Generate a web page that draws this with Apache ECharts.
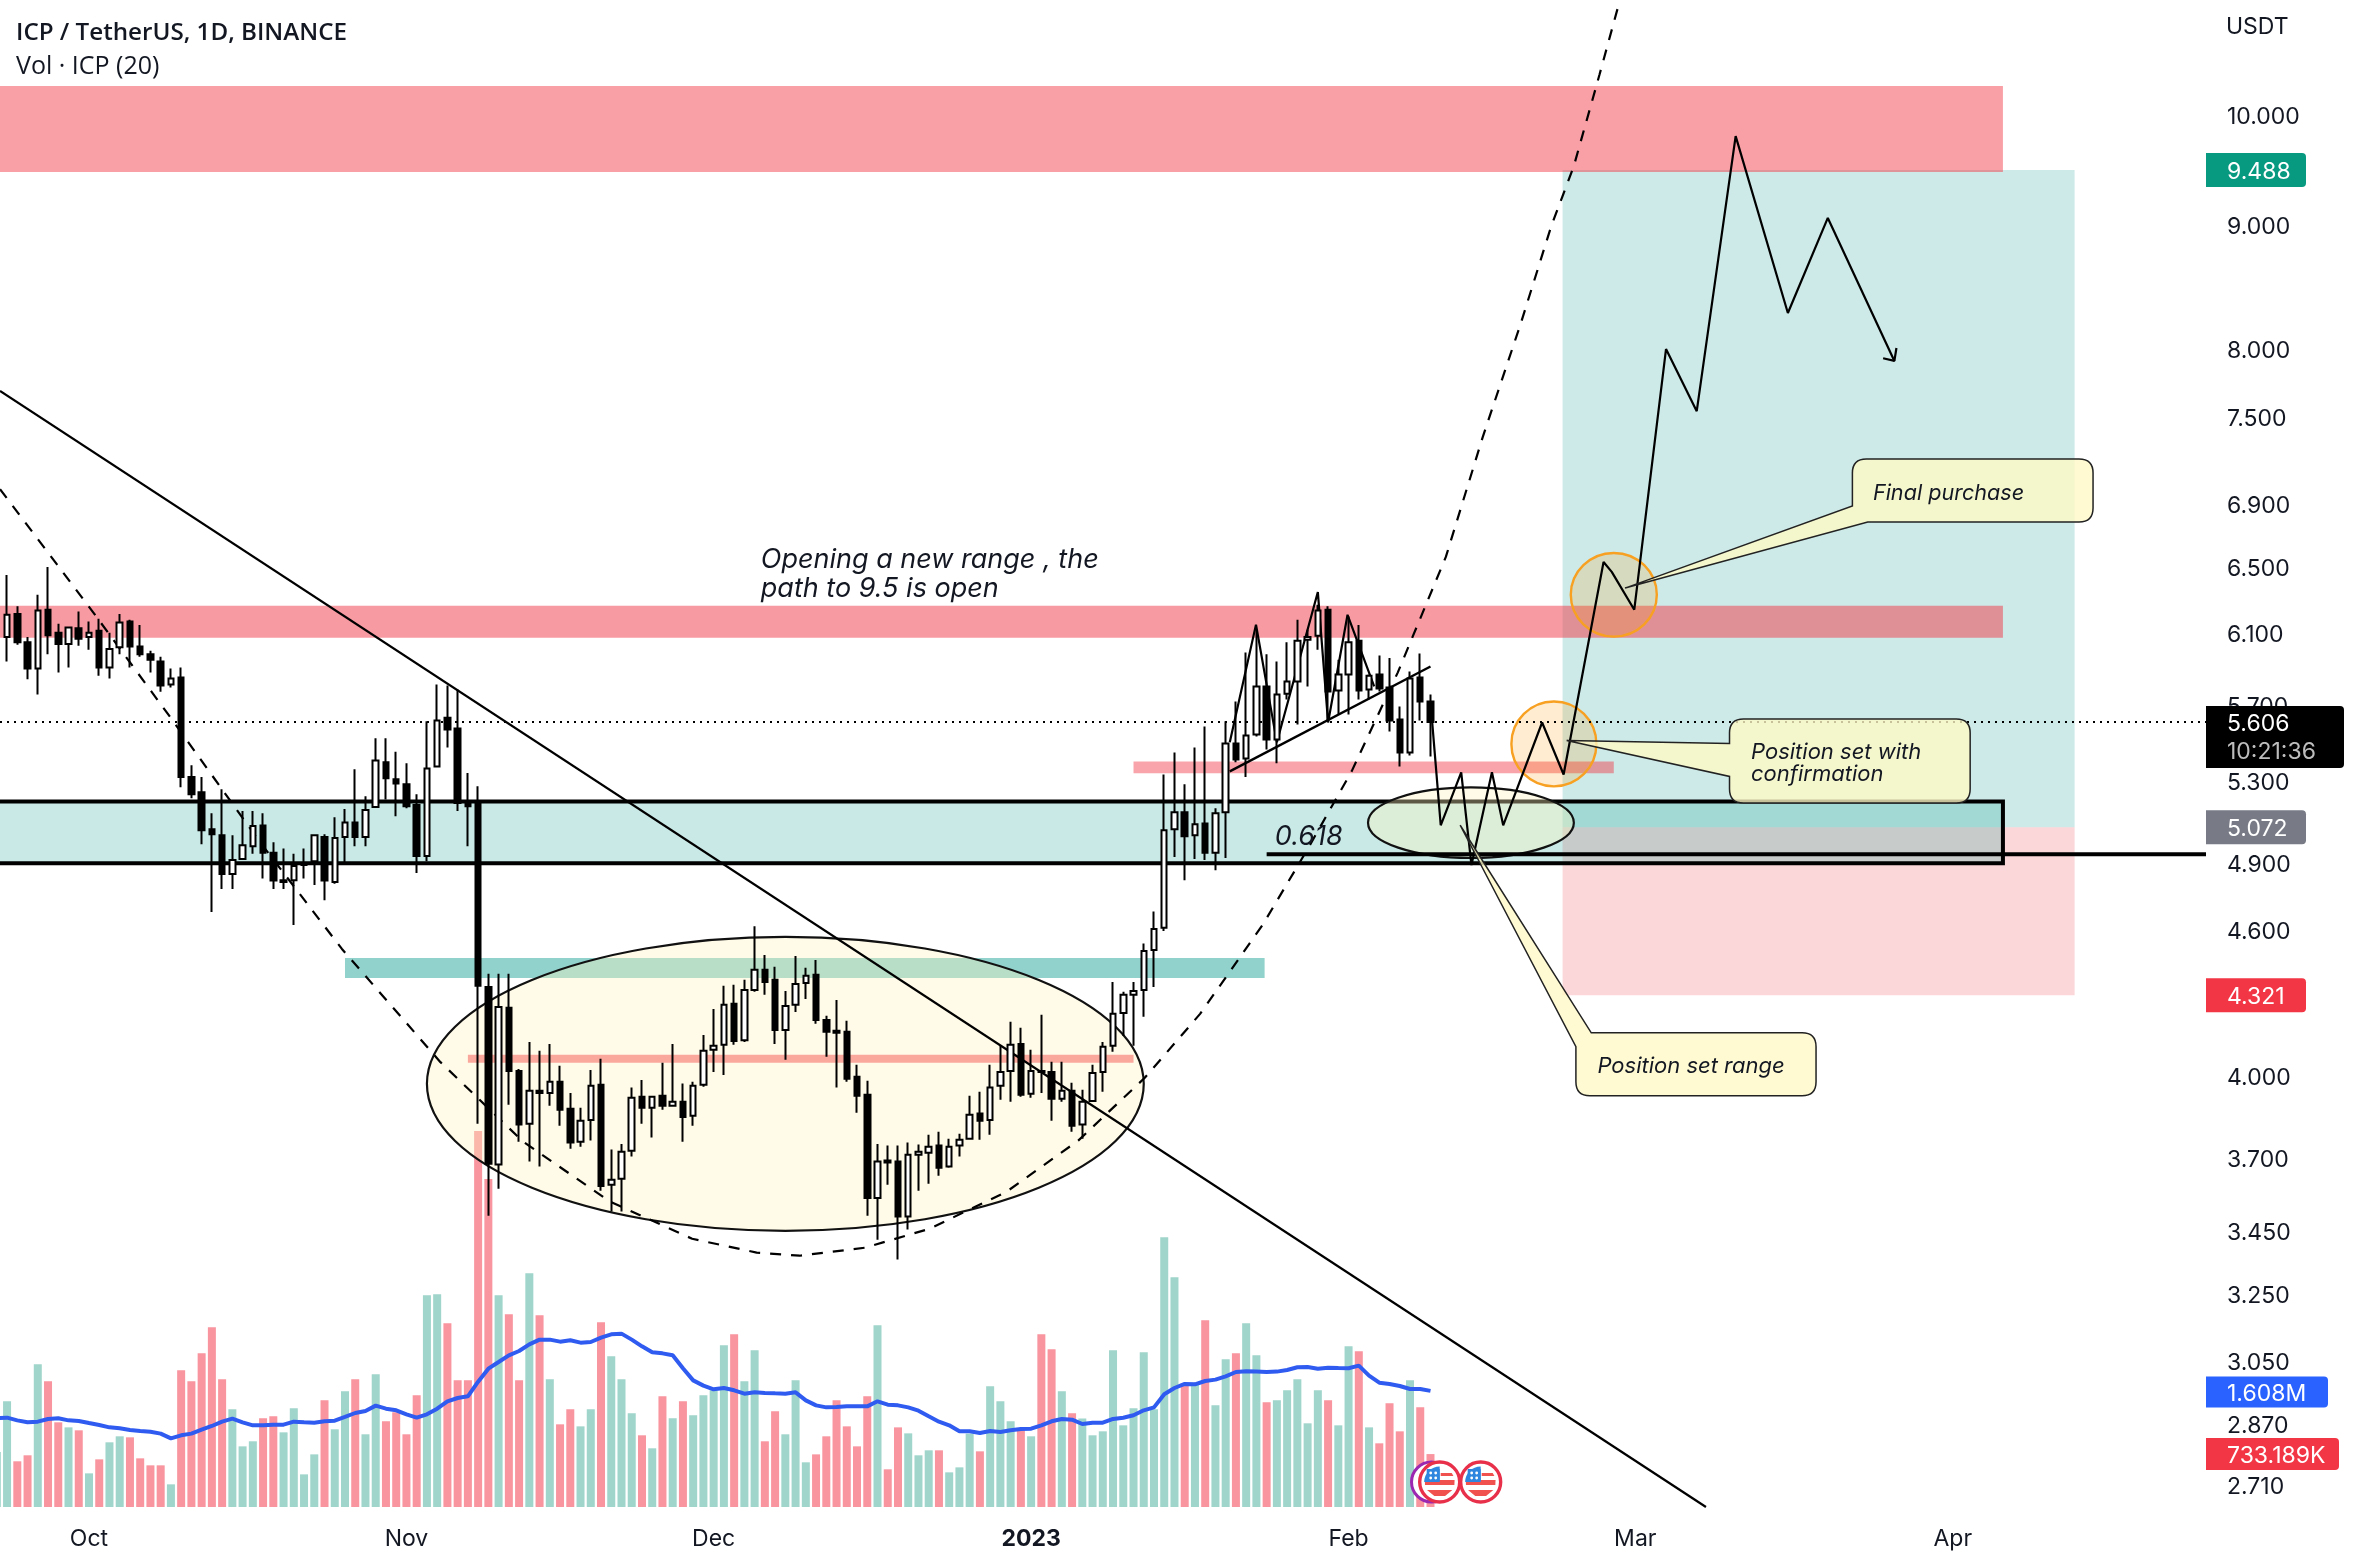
<!DOCTYPE html>
<html><head><meta charset="utf-8"><title>ICP / TetherUS</title>
<style>html,body{margin:0;padding:0;background:#fff}#c{width:2362px;height:1564px}</style>
<script src="https://cdn.jsdelivr.net/npm/echarts@6/dist/echarts.min.js"></script>
</head><body><div id="c"></div>
<script>
const firstDay = '2022-09-22';
// one row per daily candle: open, close, low, high
const ohlc = [
[5.905,6.08,5.9,6.2],[6.08,6.21,5.94,6.45],[6.215,6.05,6.035,6.26],[6.05,5.90,5.84,6.08],[5.90,6.235,5.755,6.33],
[6.24,6.09,5.98,6.50],[6.105,6.04,5.877,6.157],[6.04,6.135,5.905,6.14],[6.13,6.07,6.03,6.23],[6.08,6.105,6.007,6.17],
[6.116,5.905,5.86,6.187],[5.905,6.01,5.844,6.105],[6.02,6.164,5.98,6.215],[6.17,6.025,5.905,6.18],[6.025,5.98,5.967,6.15],
[5.98,5.95,5.877,6.0],[5.94,5.805,5.77,5.967],[5.81,5.844,5.794,5.90],[5.85,5.32,5.268,5.905],[5.32,5.233,5.213,5.38],
[5.243,5.057,4.99,5.32],[5.062,5.038,4.678,5.14],[5.033,4.85,4.781,5.258],[4.85,4.915,4.781,5.033],[4.92,4.985,4.915,5.15],
[4.98,5.077,4.945,5.15],[5.08,4.95,4.83,5.14],[4.95,4.82,4.781,5.0],[4.813,4.822,4.781,4.97],[4.822,4.887,4.62,4.945],
[4.892,4.90,4.83,4.97],[4.91,5.033,4.80,5.038],[5.024,4.82,4.73,5.038],[4.813,5.02,4.805,5.12],[5.024,5.095,4.905,5.16],
[5.095,5.024,4.98,5.36],[5.024,5.155,4.98,5.223],[5.17,5.405,5.165,5.52],[5.395,5.314,5.208,5.52],[5.309,5.288,5.125,5.45],
[5.283,5.174,5.164,5.39],[5.18,4.934,4.855,5.233],[4.934,5.364,4.91,5.61],[5.374,5.615,5.37,5.81],[5.63,5.567,5.472,5.805],
[5.572,5.19,5.15,5.783],[5.19,5.174,4.98,5.34],[5.198,4.36,3.823,5.273],[4.355,3.68,3.502,4.41],[3.677,4.273,3.593,4.41],
[4.27,4.02,3.893,4.41],[4.02,3.82,3.758,4.028],[3.823,3.945,3.688,4.133],[3.945,3.937,3.67,4.098],[3.937,3.979,3.889,4.125],
[3.979,3.874,3.816,4.04],[3.878,3.755,3.733,3.937],[3.758,3.834,3.74,3.882],[3.837,3.964,3.762,4.024],[3.968,3.603,3.586,4.067],
[3.607,3.624,3.516,3.73],[3.628,3.722,3.516,3.75],[3.726,3.919,3.705,3.957],[3.923,3.882,3.823,3.986],[3.882,3.923,3.773,3.926],
[3.926,3.889,3.874,4.052],[3.889,3.904,3.889,4.125],[3.904,3.848,3.758,3.972],[3.852,3.964,3.816,3.979],[3.968,4.098,3.96,4.16],
[4.102,4.118,4.016,4.265],[4.122,4.282,4.005,4.36],[4.286,4.137,4.122,4.364],[4.14,4.343,4.133,4.385],[4.343,4.427,4.335,4.615],
[4.427,4.376,4.323,4.49],[4.385,4.18,4.125,4.44],[4.18,4.277,4.063,4.339],[4.282,4.368,4.253,4.486],[4.372,4.402,4.306,4.436],
[4.406,4.22,4.205,4.469],[4.22,4.173,4.075,4.237],[4.177,4.169,3.957,4.302],[4.173,3.99,3.979,4.217],[3.998,3.926,3.863,4.044],
[3.93,3.562,3.502,3.983],[3.562,3.688,3.423,3.75],[3.691,3.684,3.607,3.744],[3.688,3.499,3.359,3.744],[3.499,3.712,3.456,3.755],
[3.712,3.722,3.586,3.748],[3.719,3.74,3.61,3.783],[3.744,3.666,3.638,3.794],[3.67,3.74,3.666,3.769],[3.744,3.765,3.705,3.787],
[3.769,3.856,3.765,3.926],[3.86,3.834,3.765,3.941],[3.837,3.957,3.783,4.044],[3.964,4.016,3.911,4.118],[4.02,4.122,3.904,4.213],
[4.125,3.93,3.923,4.189],[3.934,4.02,3.919,4.102],[4.02,4.016,3.937,4.241],[4.016,3.915,3.834,4.056],[3.915,3.945,3.904,4.056],
[3.945,3.816,3.794,3.975],[3.82,3.904,3.769,3.949],[3.907,4.012,3.904,4.044],[4.016,4.114,3.941,4.133],[4.118,4.245,4.094,4.376],
[4.249,4.323,4.156,4.335],[4.323,4.339,4.118,4.376],[4.343,4.507,4.233,4.54],[4.511,4.603,4.355,4.68],[4.608,5.057,4.594,5.333],
[5.062,5.145,4.93,5.446],[5.145,5.028,4.822,5.283],[5.033,5.086,4.92,5.472],[5.09,4.95,4.915,5.583],[4.95,5.14,4.868,5.164],
[5.145,5.493,4.925,5.61],[5.493,5.41,5.395,5.717],[5.415,5.535,5.32,5.99],[5.54,5.80,5.53,6.122],[5.80,5.514,5.462,5.98],
[5.514,5.755,5.39,5.94],[5.76,5.827,5.728,6.05],[5.827,6.058,5.593,6.18],[6.064,6.08,5.80,6.122],[6.087,6.235,6.007,6.27],
[6.24,5.772,5.61,6.26],[5.778,5.866,5.647,5.95],[5.866,6.05,5.647,6.2],[6.058,5.778,5.728,6.15],[5.783,5.86,5.728,5.866],
[5.866,5.788,5.772,5.973],[5.794,5.615,5.556,5.96],[5.62,5.446,5.374,5.69],[5.446,5.844,5.43,5.883],[5.85,5.717,5.615,5.985],
[5.717,5.606,5.425,5.755]
];
// volume in thousands of ICP, per candle
const volume = [
762,1464,633,716,1976,1741,1173,1103,1062,466,660,896,979,965,674,577,577,314,1893,1741,
2128,2489,1768,1353,840,910,1228,1256,1034,1367,452,729,1477,1076,1602,1768,1007,1838,1187,1311,
1007,1547,2932,2946,2544,1754,1754,5208,4543,2932,2669,1754,3236,2655,1768,1145,1353,1117,1353,2558,
2087,1768,1297,993,813,1533,1228,1464,1270,1547,1616,2239,2392,1741,2170,910,1325,1007,1754,619,
729,979,1477,1117,840,1533,2516,522,1103,1020,716,785,785,480,549,1016,771,1671,1464,1187,
1062,979,2392,2184,1602,1297,1224,993,1048,2170,1131,1367,2142,1353,3735,3181,1708,1708,2586,1408,
2045,2128,2544,2101,1450,1477,1616,1768,1159,1616,1477,1131,2225,2156,1103,882,1436,1048,1754,1380,733
];
// 20-period volume average, per candle
const volumeMA = [
1233,1237,1200,1173,1182,1219,1228,1200,1191,1163,1136,1103,1090,1067,1053,1043,1016,951,993,1016,
1071,1122,1182,1224,1173,1131,1131,1140,1140,1182,1173,1168,1187,1196,1247,1302,1330,1404,1362,1339,
1284,1237,1284,1362,1464,1510,1533,1736,1916,2008,2101,2161,2253,2318,2318,2290,2309,2276,2285,2345,
2392,2401,2318,2225,2142,2128,2101,1921,1754,1681,1630,1648,1616,1570,1588,1579,1574,1570,1588,1477,
1408,1380,1385,1394,1394,1394,1464,1417,1408,1380,1334,1256,1182,1131,1048,1048,1025,1053,1039,1062,
1080,1085,1131,1187,1219,1210,1150,1168,1168,1219,1237,1270,1339,1380,1561,1648,1704,1699,1745,1764,
1810,1870,1879,1875,1870,1875,1898,1935,1939,1916,1930,1925,1921,1958,1819,1722,1704,1676,1634,1634,1608
];
const priceTicks = ['10.000','9.000','8.000','7.500','6.900','6.500','6.100','5.700','5.300','4.900','4.600','4.000','3.700','3.450','3.250','3.050','2.870','2.710'];
const monthTicks = ['2022-10-01','2022-11-01','2022-12-01','2023-01-01','2023-02-01','2023-03-01','2023-04-01'];
const monthLabels = ['Oct','Nov','Dec','2023','Feb','Mar','Apr'];

// axis window, in days after firstDay, and in price
const dayWindow = [0.31, 215.73];
const priceWindow = [2.653, 11.158];
const volumeMax = 20872;

// trade levels
const lastPrice = 5.606, targetPrice = 9.488, entryPrice = 5.072, stopPrice = 4.321;
const volMALast = 1608, volLast = 733.189;
// zones: from day, to day, upper price, lower price
const supplyTop = [-1, 195.9, 10.28, 9.471];
const supplyMid = [-1, 195.9, 6.263, 6.076];
const rangeBox = [-1, 195.9, 5.198, 4.90];
const tealStrip = [34.0, 123.8, 4.477, 4.393];
const pinkStripLow = [46.0, 111.0, 4.083, 4.052];
const pinkStripHigh = [111.0, 157.9, 5.40, 5.339];
const profitArea = [152.9, 202.9, targetPrice, entryPrice];
const lossArea = [152.9, 202.9, entryPrice, stopPrice];
// ellipses: left day, right day, upper price, lower price
const bigEllipse = [42.0, 112.0, 4.568, 3.452];
const rangeEllipse = [133.9, 154.0, 5.268, 4.925];
const upperCircle = [153.7, 162.1, 6.587, 6.082];
const lowerCircle = [147.9, 156.2, 5.717, 5.273];
// drawn lines: [day, price]
const downTrend = [[0.31,7.687],[166.9,2.653]];
const arcCurve = [[0.31,7.0],[9.39,6.226],[17.1,5.62],[25.7,5.0],[33.7,4.516],[43.3,4.055],[51.4,3.758],[59.9,3.549],[67.9,3.426],[74.2,3.381],[78.4,3.371],[84.8,3.397],[91.1,3.459],[98.6,3.583],[105.6,3.762],[112.1,3.994],[117.5,4.245],[123.6,4.62],[128.0,4.967],[132.3,5.349],[136.8,5.877],[141.5,6.562],[145.1,7.356],[148.8,8.194],[151.8,8.996],[154.0,9.525],[156.5,10.39],[158.5,11.158]];
const riseLine = [[120.4,5.349],[140.0,5.911]];
const fibLine = [[124.0,4.943],[215.73,4.943]];
const pastZigzag = [[120.4,5.499],[122.96,6.152],[125.0,5.499],[129.0,6.346],[130.0,5.604],[131.9,6.21],[134.5,5.80]];
const pathZigzag = [[140.0,5.717],[141.0,5.081],[143.0,5.344],[144.0,4.892],[146.0,5.344],[147.1,5.081],[150.9,5.604],[153.0,5.333],[156.9,6.53],[157.7,6.469],[159.9,6.24],[163.0,8.0],[166.0,7.54],[169.8,9.80],[174.9,8.28],[178.8,9.065],[185.3,7.91]];
const arrowTip = [[184.2,7.93],[185.3,7.91],[185.5,8.008]];
// callouts: outline vertices [day, price, corner radius]
const calloutFinal = [[181.2,7.204,14],[204.7,7.204,14],[204.7,6.784,14],[182.7,6.784,0],[159.0,6.370,0],[181.2,6.889,0]];
const calloutConfirm = [[169.2,5.623,14],[192.7,5.623,14],[192.7,5.190,14],[169.2,5.190,14],[169.2,5.323,0],[153.3,5.509,0],[169.2,5.493,0]];
const calloutRange = [[155.7,4.169,0],[177.65,4.169,14],[177.65,3.926,14],[154.2,3.926,14],[154.2,4.114,0],[142.9,5.081,0]];
// free text: day, price, text, font size
const notes = [
 [183.2,6.987,'Final purchase',21.6],
 [171.3,5.402,'Position set with\nconfirmation',22],
 [156.3,4.044,'Position set range',22],
 [74.6,6.465,'Opening a new range , the\npath to 9.5 is open',27],
 [124.8,5.033,'0.618',27]
];
const economicEvents = [140.9, 144.9];
const dividendEvent = 140.1;
const eventVolumeLevel = 346;
const lastLabelTime = '10:21:36';

const DAY = 864e5;
const t0 = Date.parse(firstDay + 'T00:00:00Z');
const monthDays = monthTicks.map(d => (Date.parse(d + 'T00:00:00Z') - t0) / DAY);
const fontFamily = 'Inter';
const INK = '#131722';

const candles = ohlc.map((r, i) => [i, r[0], r[1], r[2], r[3]]);
const line = (name, data, width, extra) => ({
  name, type: 'line', data, xAxisIndex: 0, yAxisIndex: 0, showSymbol: false, symbol: 'none',
  silent: true, animation: false, z: 4,
  lineStyle: Object.assign({ color: '#000', width }, extra || {})
});
const custom = (name, z, items, render, yAxisIndex, clip) => ({
  name, type: 'custom', xAxisIndex: 0, yAxisIndex: yAxisIndex || 0, z, silent: true, animation: false, clip: !!clip,
  data: items.map((_, i) => [i]),
  encode: { x: -1, y: -1 },
  renderItem: (params, api) => render(items[params.dataIndex], api)
});
const boxOf = (b, api) => {
  const a = api.coord([b[0], b[2]]), c = api.coord([b[1], b[3]]);
  return { x: a[0], y: a[1], width: c[0] - a[0], height: c[1] - a[1] };
};
const zone = (b, fill, stroke, w) => ({ b, fill, stroke, w });
const zoneItem = (z, api) => ({
  type: 'rect', shape: boxOf(z.b, api),
  style: { fill: z.fill, stroke: z.stroke || null, lineWidth: z.w || 0 }
});
const zones = [
  zone(profitArea, 'rgba(38,166,154,0.23)'),
  zone(lossArea, 'rgba(242,54,69,0.2)'),
  zone(supplyTop, 'rgba(242,54,69,0.48)'),
  zone(supplyMid, 'rgba(242,54,69,0.5)'),
  zone(tealStrip, 'rgba(38,166,154,0.5)'),
  zone(pinkStripHigh, 'rgba(242,54,69,0.45)'),
  zone(rangeBox, 'rgba(38,166,154,0.25)', '#000', 4)
];
const ellipses = [
  [bigEllipse, 'rgba(255,245,190,0.36)', '#111', 2.2],
  [rangeEllipse, 'rgba(255,245,190,0.36)', '#111', 2.2],
  [upperCircle, 'rgba(255,152,0,0.18)', '#f7a021', 2.4],
  [lowerCircle, 'rgba(255,152,0,0.18)', '#f7a021', 2.4]
];
function calloutPath(vs, api) {
  const P = vs.map(v => { const c = api.coord([v[0], v[1]]); return [c[0], c[1], v[2]]; });
  let d = '';
  const n = P.length;
  P.forEach((p, i) => {
    const a = P[(i + n - 1) % n], b = P[(i + 1) % n], r = p[2];
    if (!r) { d += (i ? 'L' : 'M') + p[0] + ' ' + p[1]; return; }
    const la = Math.hypot(a[0]-p[0], a[1]-p[1]), lb = Math.hypot(b[0]-p[0], b[1]-p[1]);
    const s = [p[0] + (a[0]-p[0])*r/la, p[1] + (a[1]-p[1])*r/la];
    const e = [p[0] + (b[0]-p[0])*r/lb, p[1] + (b[1]-p[1])*r/lb];
    d += (i ? 'L' : 'M') + s[0] + ' ' + s[1] + 'Q' + p[0] + ' ' + p[1] + ' ' + e[0] + ' ' + e[1];
  });
  return d + 'Z';
}
const labelX = dayWindow[1];
const tags = [
  { text: targetPrice.toFixed(3), v: targetPrice, color: '#089981', w: 100 },
  { text: entryPrice.toFixed(3), v: entryPrice, color: '#787b86', w: 100 },
  { text: stopPrice.toFixed(3), v: stopPrice, color: '#f23645', w: 100 }
];
const volTags = [
  { text: (volMALast/1000).toFixed(3) + 'M', v: volMALast, color: '#2962ff', w: 122, h: 31, dy: 1 },
  { text: volLast.toFixed(3) + 'K', v: volLast, color: '#f23645', w: 133, h: 32, dy: 0 }
];
const txt = (x, y, text, fill, size, extra) => ({ type: 'text', silent: true, style: Object.assign({ x, y, text, fill, font: size + 'px ' + fontFamily, align: 'left', verticalAlign: 'middle' }, extra || {}) });
const tagItem = (tag, api) => {
  const c = api.coord([labelX, tag.v]), y = c[1] + (tag.dy || 0), h = tag.h || 34, x0 = c[0];
  return { type: 'group', children: [
    { type: 'rect', shape: { x: x0, y: y - h / 2, width: tag.w, height: h, r: [0,4,4,0] }, style: { fill: tag.color } },
    txt(x0 + 21, y + 2, tag.text, '#fff', 23)
  ]};
};
function ring(day, api) {
  const c = api.coord([day, eventVolumeLevel]);
  return { type: 'circle', shape: { cx: c[0], cy: c[1], r: 20 }, style: { fill: '#fff', stroke: '#9c27b0', lineWidth: 3 } };
}
function flag(day, api) {
  const c = api.coord([day, eventVolumeLevel]);
  const R = 15;
  const stripe = (y1, y2, right) => {
    const w1 = Math.sqrt(Math.max(R*R - y1*y1, 0)), w2 = Math.sqrt(Math.max(R*R - y2*y2, 0));
    return { type: 'polygon', shape: { points: [[right ? 1 : -w1, y1],[w1, y1],[w2, y2],[right ? 1 : -w2, y2]] }, style: { fill: '#f0514f' } };
  };
  return { type: 'group', x: c[0], y: c[1], children: [
    { type: 'circle', shape: { cx: 0, cy: 0, r: 20 }, style: { fill: '#fff', stroke: '#e8304a', lineWidth: 3.4 } },
    stripe(-9, -6, true), stripe(-2, 3, false), stripe(8, 14, false),
    { type: 'sector', shape: { cx: 0, cy: 0, r: 15.5, r0: 0, startAngle: Math.PI, endAngle: Math.PI * 1.5 }, style: { fill: '#2e86de' } },
    { type: 'rect', shape: { x: -13, y: -13, width: 13, height: 12 }, style: { fill: '#2e86de' } },
    ...[[-9,-9],[-4,-9],[-9,-4],[-4,-4]].map(p => ({ type: 'circle', shape: { cx: p[0], cy: p[1], r: 1.4 }, style: { fill: '#fff' } }))
  ]};
}

const option = {
  animation: false,
  backgroundColor: '#fff',
  textStyle: { fontFamily },
  title: [
    { text: 'ICP / TetherUS, 1D, BINANCE', left: 16, top: 21, padding: 0, textStyle: { fontFamily: 'Open Sans', fontWeight: 600, fontSize: 24.2, color: INK } },
    { text: 'Vol · ICP (20)', left: 16, top: 54, padding: 0, textStyle: { fontFamily: 'Open Sans', fontWeight: 400, fontSize: 25, color: INK } },
    { text: 'USDT', left: 2226, top: 16, padding: 0, textStyle: { fontFamily, fontWeight: 400, fontSize: 23, color: INK } }
  ],
  grid: { left: 0, top: 0, width: 2206, height: 1507, containLabel: false },
  xAxis: [{
    type: 'value', min: dayWindow[0], max: dayWindow[1], scale: true,
    axisLine: { show: false }, axisTick: { show: false }, splitLine: { show: false },
    axisLabel: {
      customValues: monthDays,
      hideOverlap: false, margin: 21, fontFamily, fontSize: 23, color: INK,
      formatter: v => {
        const i = monthDays.indexOf(+v);
        const s = i >= 0 ? monthLabels[i] : '';
        return /^\d/.test(s) ? '{b|' + s + '}' : s;
      },
      rich: { b: { fontFamily, fontSize: 23, fontWeight: 700, color: INK } }
    }
  }],
  yAxis: [
    { type: 'log', min: priceWindow[0], max: priceWindow[1], show: false, splitLine: { show: false } },
    { type: 'value', min: 0, max: volumeMax, show: false, splitLine: { show: false } }
  ],
  series: [
    custom('zones', 1, zones, zoneItem, 0, true),
    {
      name: 'Vol', type: 'bar', xAxisIndex: 0, yAxisIndex: 1, barWidth: 8, z: 2, silent: true,
      data: volume.map((v, i) => ({ value: [i, v], itemStyle: { color: ohlc[i][1] >= ohlc[i][0] ? '#9fd5cb' : '#f8959f' } }))
    },
    custom('ellipses', 3, ellipses, (e, api) => {
      const b = boxOf(e[0], api);
      return { type: 'ellipse', shape: { cx: b.x + b.width/2, cy: b.y + b.height/2, rx: b.width/2, ry: b.height/2 }, style: { fill: e[1], stroke: e[2], lineWidth: e[3] } };
    }),
    custom('pinkStrip', 3.5, [zone(pinkStripLow, 'rgba(247,85,79,0.5)')], zoneItem, 0, true),
    line('downTrend', downTrend, 2.2),
    line('arc', arcCurve, 2.2, { type: [11, 10] }),
    line('rise', riseLine, 2.4),
    line('fib', fibLine, 4),
    line('pastZigzag', pastZigzag, 2.2),
    line('pathZigzag', pathZigzag, 2.2),
    line('arrow', arrowTip, 2.2),
    line('last', [[dayWindow[0], lastPrice],[dayWindow[1], lastPrice]], 2, { type: [2, 5] }),
    {
      name: 'ICP', type: 'candlestick', xAxisIndex: 0, yAxisIndex: 0, barWidth: 6, z: 5, silent: true,
      data: candles, encode: { x: 0, y: [1, 2, 3, 4] },
      itemStyle: { color: '#fff', color0: '#000', borderColor: '#000', borderColor0: '#000', borderWidth: 2 }
    },
    {
      name: 'Vol MA', type: 'line', xAxisIndex: 0, yAxisIndex: 1, z: 6, showSymbol: false, symbol: 'none', silent: true,
      data: volumeMA.map((v, i) => [i, v]), lineStyle: { color: '#2f5bf0', width: 4 }
    },
    custom('dividend', 6.5, [dividendEvent], ring, 1),
    custom('flags', 7, economicEvents, flag, 1),
    custom('callouts', 8, [calloutFinal, calloutConfirm, calloutRange], (c, api) => ({
      type: 'path', shape: { pathData: calloutPath(c, api) },
      style: { fill: 'rgba(255,249,196,0.78)', stroke: '#222', lineWidth: 1.5 }
    })),
    custom('notes', 9, notes, (n, api) => {
      const c = api.coord([n[0], n[1]]);
      return txt(c[0], c[1] + 2, n[2], '#131722', n[3], {
        font: 'italic ' + n[3] + 'px ' + fontFamily, lineHeight: n[3] > 24 ? 29 : 22
      });
    }),
    custom('priceTicks', 10, priceTicks, (t, api) => txt(2227, api.coord([labelX, +t])[1] + 2, t, INK, 23)),
    custom('priceTags', 11, tags, tagItem),
    custom('volTags', 11, volTags, tagItem, 1),
    custom('lastTag', 12, [lastPrice], (v, api) => {
      const c = api.coord([labelX, v]);
      return { type: 'group', children: [
        { type: 'rect', shape: { x: c[0], y: c[1] - 16, width: 138, height: 62, r: [0,4,4,0] }, style: { fill: '#000' } },
        txt(c[0] + 21, c[1] + 2, v.toFixed(3), '#fff', 23),
        txt(c[0] + 21, c[1] + 30, lastLabelTime, '#bdbdbd', 23)
      ]};
    })
  ]
};
const chart = echarts.init(document.getElementById('c'), null, { renderer: 'canvas', width: 2362, height: 1564 });
chart.setOption(option);
</script></body></html>
